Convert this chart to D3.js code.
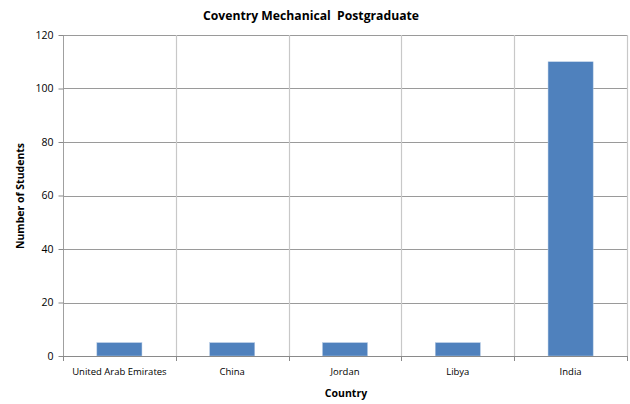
<!DOCTYPE html>
<html><head><meta charset="utf-8">
<script src="https://cdn.jsdelivr.net/npm/d3@7"></script>
<style>body{margin:0;background:#fff;} text{font-family:"Open Sans","Noto Sans",sans-serif;}</style>
</head><body><svg id="c" width="630" height="404"></svg>
<script>
const categories = ["United Arab Emirates","China","Jordan","Libya","India"];
const values = [5,5,5,5,110];
const yTicks = [0,20,40,60,80,100,120];
const title = "Coventry Mechanical  Postgraduate";
const yTitle = "Number of Students";
const xTitle = "Country";

const svg = d3.select("#c");
const L=63, R=627, T=35, B=356;
const x = d3.scaleBand().domain(categories).range([L,R]).paddingInner(0).paddingOuter(0);
const y = d3.scaleLinear().domain([0,120]).range([B,T]);

// horizontal gridlines
svg.append("g").selectAll("line").data(yTicks.slice(1)).join("line")
  .attr("x1",L).attr("x2",R).attr("y1",d=>Math.round(y(d))+0.5).attr("y2",d=>Math.round(y(d))+0.5)
  .attr("stroke","#9a9a9a").attr("stroke-width",1);
// vertical gridlines
const bounds = categories.map(c=>x(c)).slice(1).concat([R]);
svg.append("g").selectAll("line").data(bounds).join("line")
  .attr("x1",d=>Math.round(d)+0.5).attr("x2",d=>Math.round(d)+0.5).attr("y1",T).attr("y2",B)
  .attr("stroke","#c8c8c8").attr("stroke-width",1.2);

// bars
const bw = x.bandwidth()*0.4;
svg.append("g").selectAll("rect").data(values).join("rect")
  .attr("x",(d,i)=>x(categories[i])+x.bandwidth()/2-bw/2)
  .attr("width",bw)
  .attr("y",d=>y(d)).attr("height",d=>B-y(d))
  .attr("fill","#4F81BD").attr("stroke","#b9cde5").attr("stroke-width",0.5);

// y axis
const ya = svg.append("g").attr("transform",`translate(${L+0.5},0)`)
  .call(d3.axisLeft(y).tickValues(yTicks).tickSize(5).tickPadding(5));
ya.select(".domain").attr("stroke","#a0a0a0").attr("d",`M-0,${T}V${B}`);
ya.selectAll(".tick line").attr("stroke","#8a8a8a");
ya.selectAll(".tick text").attr("font-size","10.5px").attr("fill","#000").attr("font-family","'Open Sans',sans-serif");

// x axis
const xa = svg.append("g").attr("transform",`translate(0,${B+0.5})`)
  .call(d3.axisBottom(x).tickSize(0).tickPadding(12));
xa.select(".domain").attr("stroke","#8a8a8a").attr("d",`M${L},0H${R}`);
xa.selectAll(".tick text").attr("font-size","9.5px").attr("fill","#000").attr("font-family","'Open Sans',sans-serif");
svg.append("g").selectAll("line").data([L].concat(bounds)).join("line")
  .attr("x1",d=>Math.round(d)+0.5).attr("x2",d=>Math.round(d)+0.5).attr("y1",B).attr("y2",B+5)
  .attr("stroke","#8a8a8a");

svg.append("text").attr("x",311).attr("y",20).attr("text-anchor","middle")
  .style("white-space","pre")
  .attr("font-size","12.2px").attr("font-weight","bold").text(title);
svg.append("text").attr("x",346).attr("y",397).attr("text-anchor","middle")
  .attr("font-size","10.5px").attr("font-weight","bold").text(xTitle);
svg.append("text").attr("transform","translate(24,196) rotate(-90)").attr("text-anchor","middle")
  .attr("font-size","10.5px").attr("font-weight","bold").text(yTitle);
</script></body></html>
